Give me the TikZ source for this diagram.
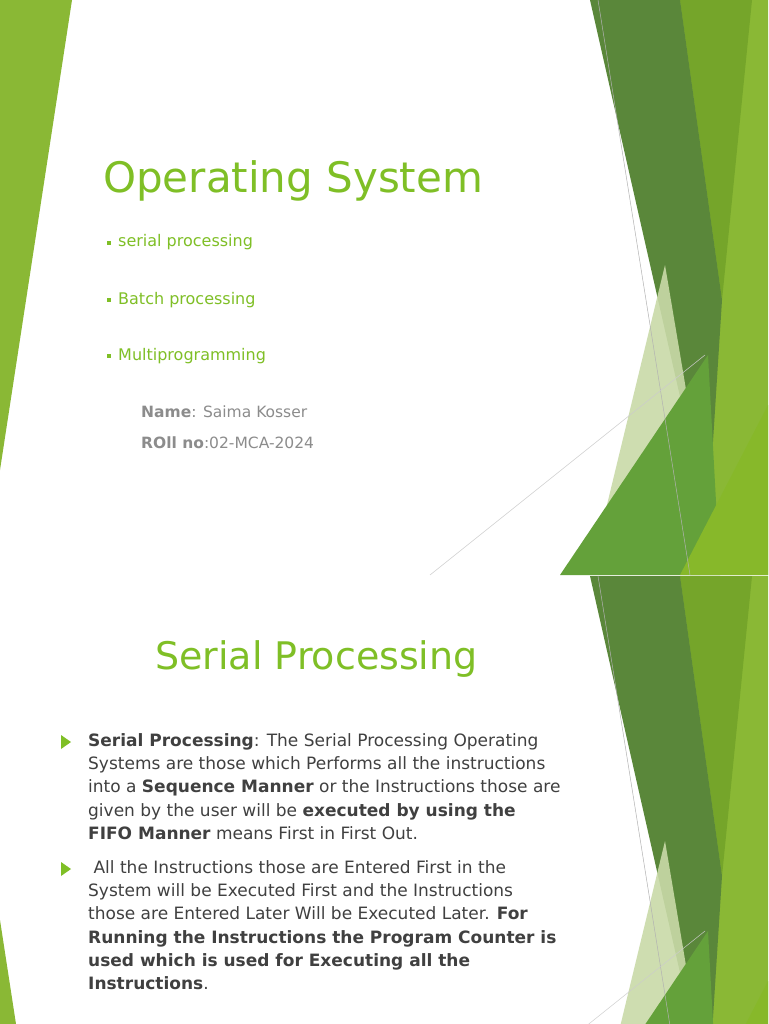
\documentclass[tikz,border=0pt]{standalone}
\usepackage{fontspec}
\setmainfont{DejaVu Sans}
\begin{document}
\begin{tikzpicture}[x=1pt,y=-1pt,
  ttl/.style={text=tgreen,inner sep=0,anchor=base west,font=\fontsize{42}{48}\selectfont},
  blt/.style={text=tgreen,inner sep=0,anchor=base west,font=\fontsize{16}{20}\selectfont},
  nm/.style={text=tgray,inner sep=0,anchor=base west,font=\fontsize{15.5}{20}\selectfont},
  body/.style={text=tdark,inner sep=0,anchor=north west,align=left,font=\fontsize{17}{23.3}\selectfont},
  tri/.style={fill=tgreen,draw=none}]
\definecolor{tgreen}{HTML}{7FBF26}
\definecolor{tgray}{HTML}{8C8C8C}
\definecolor{tdark}{HTML}{404040}
\definecolor{dkg}{HTML}{5A873A}
\definecolor{mdg}{HTML}{75A52A}
\definecolor{ltg}{HTML}{8AB835}
\definecolor{pale}{HTML}{C9DAA8}
\definecolor{btg}{HTML}{64A13A}
\definecolor{brg}{HTML}{87B82A}
\useasboundingbox (0,0) rectangle (768,1024);
\fill[white] (0,0) rectangle (768,1024);
\newcommand{\deco}[1]{%
 \begin{scope}[shift={(0,#1)}]
  \fill[ltg] (680,0) -- (768,0) -- (768,575) -- (690,575) -- cycle;
  \fill[mdg] (680,0) -- (752,0) -- (722,300) -- cycle;
  \fill[dkg] (590,0) -- (680,0) -- (722,300) -- (708,520) -- cycle;
  \fill[pale,opacity=0.9] (665,265) -- (708,520) -- (700,575) -- (590,575) -- cycle;
  \fill[btg] (560,575) -- (708,355) -- (720,575) -- cycle;
  \fill[brg] (680,575) -- (768,405) -- (768,575) -- cycle;
  \draw[gray!60,line width=0.5] (598,0) -- (690,575);
  \draw[gray!40,line width=0.5] (430,575) -- (705,355);
 \end{scope}}
\deco{0}
\deco{576}
\fill[ltg] (0,0) -- (72,0) -- (0,470) -- cycle;
\fill[ltg] (0,920) -- (16,1024) -- (0,1024) -- cycle;
% slide 1
\node[ttl] (t1) at (103,193) {Operating System};
\foreach \y/\t [count=\i] in {247/serial processing,304/Batch processing,360/Multiprogramming}{
  \fill[tgreen] (107,\y-6) rectangle (111,\y-2);
  \node[blt] (b\i) at (118,\y) {\t};}
\node[nm] (n1) at (141,417) {\textbf{Name}: Saima Kosser};
\node[nm] (n2) at (141,448) {\textbf{ROll no}:02-MCA-2024};
% slide 2
\node[ttl,font=\fontsize{38}{44}\selectfont] (t2) at (155,669) {Serial Processing};
\fill[tgreen] (61,735) -- (71,742) -- (61,749) -- cycle;
\fill[tgreen] (61,862) -- (71,869) -- (61,876) -- cycle;
\node[body] (p1) at (88,733) {\textbf{Serial Processing}: The Serial Processing Operating\\Systems are those which Performs all the instructions\\into a \textbf{Sequence Manner} or the Instructions those are\\given by the user will be \textbf{executed by using the}\\\textbf{FIFO Manner} means First in First Out.};
\node[body] (p2) at (88,860) {\ All the Instructions those are Entered First in the\\System will be Executed First and the Instructions\\those are Entered Later Will be Executed Later. \textbf{For}\\\textbf{Running the Instructions the Program Counter is}\\\textbf{used which is used for Executing all the}\\\textbf{Instructions}.};
\end{tikzpicture}
\end{document}
